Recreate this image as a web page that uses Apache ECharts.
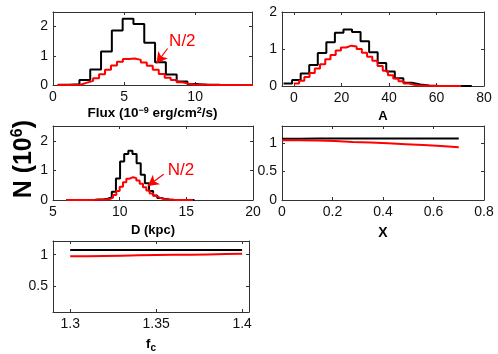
<!DOCTYPE html>
<html>
<head>
<meta charset="utf-8">
<script src="https://cdn.jsdelivr.net/npm/echarts@6/dist/echarts.min.js"></script>
<style>
  html, body { margin: 0; background: #fff; }
  #chart { width: 498px; height: 354px; }
</style>
</head>
<body>
<div id="chart"></div>
<script>
// histograms: first bin edge, bin width, bin heights (units of 10^6)
const fluxBlackStart = 0.34
const fluxBlackWidth = 0.76
const fluxBlack = [0.005, 0.03, 0.17, 0.53, 1.15, 1.87, 2.27, 2.09, 1.45, 0.78, 0.36, 0.12, 0.03, 0.01, 0.005, 0.003, 0.002]

const fluxRedStart = 0.3
const fluxRedWidth = 0.42
const fluxRed = [0.002, 0.004, 0.01, 0.02, 0.08, 0.14, 0.23, 0.37, 0.52, 0.67, 0.8, 0.89, 0.91, 0.86, 0.77, 0.66, 0.52, 0.38, 0.25, 0.17, 0.09, 0.04, 0.02, 0.01, 0.005, 0.003, 0.002, 0.001, 0.001, 0.001, 0, 0, 0]

const aBlackStart = -4.34
const aBlackWidth = 3.6
const aBlack = [0.07, 0.16, 0.34, 0.57, 0.89, 1.18, 1.44, 1.53, 1.46, 1.21, 0.91, 0.62, 0.39, 0.21, 0.09, 0.04, 0.015, 0.006, 0.003, 0.002, 0.001, 0.001]

const aRedStart = 0
const aRedWidth = 2.2
const aRed = [0.07, 0.14, 0.24, 0.35, 0.47, 0.59, 0.72, 0.84, 0.96, 1.04, 1.09, 1.07, 1.0, 0.9, 0.79, 0.68, 0.54, 0.41, 0.29, 0.2, 0.13, 0.07, 0.035, 0.015, 0.008, 0.004, 0.002, 0.001, 0.001, 0.001, 0, 0]

const dBlackStart = 6.0
const dBlackWidth = 0.31
const dBlack = [0, 0, 0, 0, 0.002, 0.004, 0.008, 0.015, 0.02, 0.04, 0.09, 0.28, 0.73, 1.3, 1.55, 1.66, 1.55, 1.24, 0.85, 0.57, 0.3, 0.15, 0.07, 0.03, 0.015, 0.008, 0.004, 0.002, 0.001, 0.001, 0]

const dRedStart = 6.0
const dRedWidth = 0.25
const dRed = [0, 0, 0, 0, 0, 0, 0.002, 0.003, 0.005, 0.008, 0.012, 0.02, 0.03, 0.08, 0.17, 0.3, 0.45, 0.6, 0.72, 0.77, 0.74, 0.66, 0.55, 0.43, 0.32, 0.22, 0.14, 0.08, 0.04, 0.02, 0.01, 0.006, 0.004, 0.002, 0.001, 0, 0, 0]

const xStart = 0
const xWidth = 0.07
const xBlack = [1.078, 1.079, 1.08, 1.08, 1.079, 1.08, 1.08, 1.079, 1.08, 1.08]
const xRed = [1.05, 1.045, 1.035, 1.02, 1.01, 0.995, 0.98, 0.965, 0.95, 0.925]

const fcStart = 1.3
const fcWidth = 0.01
const fcBlack = [1.075, 1.075, 1.076, 1.075, 1.075, 1.076, 1.075, 1.075, 1.076, 1.076]
const fcRed = [0.975, 0.98, 0.985, 0.99, 0.995, 1.0, 1.0, 1.005, 1.01, 1.015]

// tick positions
const fluxTicks = [0, 5, 10]
const aTicks = [0, 20, 40, 60, 80]
const dTicks = [5, 10, 15, 20]
const xTicks = [0, 0.2, 0.4, 0.6, 0.8]
const fcTicks = [1.3, 1.35, 1.4]
const nTicks3 = [0, 1, 2]
const halfTicks = [0, 0.5, 1]
const fcYTicks = [0.5, 1]

function steps (start, width, values) {
  const pts = values.map((v, i) => [start + i * width, v])
  pts.push([start + values.length * width, values[values.length - 1]])
  return pts
}

const chart = echarts.init(document.getElementById('chart'))
const axisColor = '#333'
const labelFont = 'Liberation Sans, Arial, sans-serif'

const panels = [
  { grid: { left: 53, top: 12, width: 199, height: 73 }, x: [0, 14, fluxTicks], y: [0, 2.5, nTicks3],
    name: 'Flux (10{sup|−9} erg/cm{sup|2}/s)', nameGap: 21, nameSize: 13.5 },
  { grid: { left: 282, top: 12, width: 202, height: 74 }, x: [-5, 80, aTicks], y: [0, 2, nTicks3],
    name: 'A', nameGap: 24, nameSize: 13 },
  { grid: { left: 53, top: 126, width: 200, height: 74 }, x: [5, 20, dTicks], y: [0, 2.5, nTicks3],
    name: 'D (kpc)', nameGap: 24, nameSize: 13 },
  { grid: { left: 282, top: 126, width: 202, height: 74 }, x: [0, 0.8, xTicks], y: [0, 1.3, halfTicks],
    name: 'X', nameGap: 26, nameSize: 14 },
  { grid: { left: 53, top: 241, width: 196, height: 73 }, x: [1.29, 1.404, fcTicks], y: [0.08, 1.22, fcYTicks],
    name: 'f{sub|c}', nameGap: 23, nameSize: 13 }
]

const xAxes = []
const yAxes = []
panels.forEach((p, i) => {
  const common = {
    type: 'value',
    gridIndex: i,
    splitLine: { show: false },
    axisLine: { show: true, onZero: false, lineStyle: { color: axisColor, width: 1 } }
  }
  xAxes.push(Object.assign({}, common, {
    min: p.x[0], max: p.x[1], position: 'bottom',
    name: p.name, nameLocation: 'middle', nameGap: p.nameGap,
    nameTextStyle: {
      fontFamily: labelFont, fontWeight: 'bold', fontSize: p.nameSize, color: '#000',
      rich: {
        sup: { fontSize: 9, fontWeight: 'bold', fontFamily: labelFont, verticalAlign: 'top', padding: [0, 0, 6, 0] },
        sub: { fontSize: 10, fontWeight: 'bold', fontFamily: labelFont, verticalAlign: 'bottom', padding: [8, 0, 0, 0] }
      }
    },
    axisTick: { inside: true, length: 3, customValues: p.x[2], lineStyle: { color: axisColor } },
    axisLabel: { customValues: p.x[2], margin: 5, fontSize: 14, fontFamily: labelFont, color: '#111' }
  }))
  xAxes.push(Object.assign({}, common, {
    min: p.x[0], max: p.x[1], position: 'top',
    axisTick: { inside: true, length: 3, customValues: p.x[2], lineStyle: { color: axisColor } },
    axisLabel: { show: false }
  }))
  yAxes.push(Object.assign({}, common, {
    min: p.y[0], max: p.y[1], position: 'left',
    axisTick: { inside: true, length: 3, customValues: p.y[2], lineStyle: { color: axisColor } },
    axisLabel: { customValues: p.y[2], margin: 5, fontSize: 14, fontFamily: labelFont, color: '#111' }
  }))
  yAxes.push(Object.assign({}, common, {
    min: p.y[0], max: p.y[1], position: 'right',
    axisTick: { inside: true, length: 3, customValues: p.y[2], lineStyle: { color: axisColor } },
    axisLabel: { show: false }
  }))
})

function hist (i, color, data, extra) {
  return Object.assign({
    type: 'line',
    step: 'end',
    xAxisIndex: i * 2,
    yAxisIndex: i * 2,
    data,
    showSymbol: false,
    symbol: 'none',
    silent: true,
    lineStyle: { color, width: 2 },
    itemStyle: { color },
    z: color === 'red' ? 3 : 2
  }, extra || {})
}

function note (textAt, from, to) {
  return {
    markLine: {
      silent: true,
      symbol: ['none', 'arrow'],
      symbolSize: [9, 11],
      lineStyle: { color: '#ff0000', width: 1.2, type: 'solid' },
      label: { show: false },
      data: [[{ coord: from }, { coord: to }]]
    },
    markPoint: {
      silent: true,
      symbol: 'circle',
      symbolSize: 0,
      data: [{ coord: textAt }],
      label: { show: true, formatter: 'N/2', color: '#ff0000', fontSize: 17, fontFamily: labelFont, position: 'inside' }
    }
  }
}

chart.setOption({
  animation: false,
  backgroundColor: '#fff',
  grid: panels.map(p => p.grid),
  xAxis: xAxes,
  yAxis: yAxes,
  graphic: [{
    type: 'text',
    left: 10,
    top: 120,
    rotation: Math.PI / 2,
    style: {
      text: 'N (10{sup|6})',
      fontFamily: labelFont,
      fontWeight: 'bold',
      fontSize: 25,
      fill: '#000',
      rich: {
        sup: { fontSize: 16, fontWeight: 'bold', fontFamily: labelFont, verticalAlign: 'top', padding: [0, 0, 12, 0] }
      }
    }
  }],
  series: [
    hist(0, '#000', steps(fluxBlackStart, fluxBlackWidth, fluxBlack)),
    hist(0, 'red', steps(fluxRedStart, fluxRedWidth, fluxRed), note([9.1, 1.5], [8.06, 1.25], [7.28, 0.74])),
    hist(1, '#000', steps(aBlackStart, aBlackWidth, aBlack)),
    hist(1, 'red', steps(aRedStart, aRedWidth, aRed)),
    hist(2, '#000', steps(dBlackStart, dBlackWidth, dBlack)),
    hist(2, 'red', steps(dRedStart, dRedWidth, dRed), note([14.6, 1.0], [13.3, 0.87], [12.1, 0.47])),
    hist(3, '#000', steps(xStart, xWidth, xBlack)),
    hist(3, 'red', steps(xStart, xWidth, xRed)),
    hist(4, '#000', steps(fcStart, fcWidth, fcBlack)),
    hist(4, 'red', steps(fcStart, fcWidth, fcRed))
  ]
})
</script>
</body>
</html>
